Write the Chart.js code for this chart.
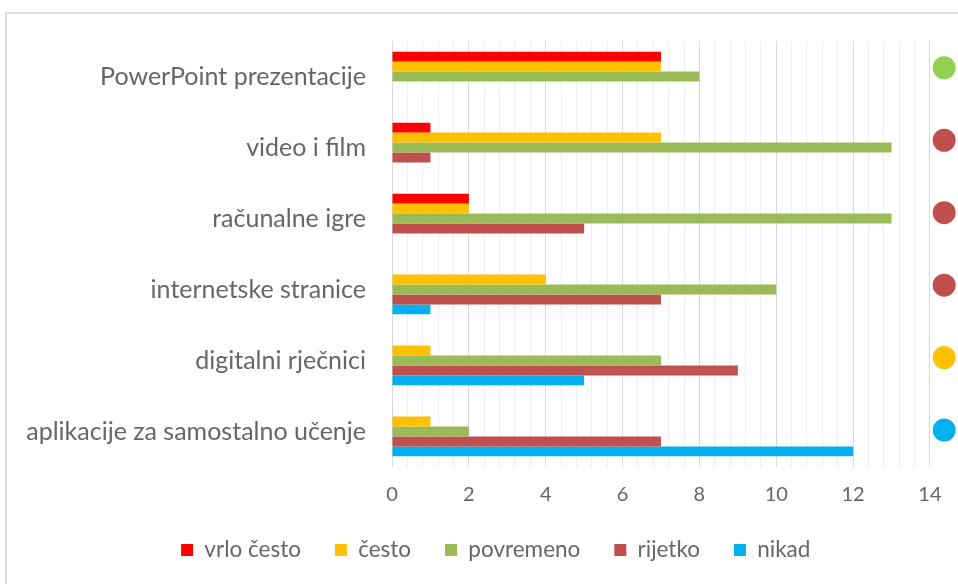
<!DOCTYPE html>
<html>
<head>
<meta charset="utf-8">
<script src="https://cdn.jsdelivr.net/npm/chart.js@4/dist/chart.umd.min.js"></script>
<style>
  html, body { margin: 0; padding: 0; background: #fff; overflow: hidden; }
  #wrap { position: relative; width: 958px; height: 584px; }
  #frame { position: absolute; left: 5px; top: 12px; width: 1000px; height: 1000px;
           border: 2px solid #dedede; box-sizing: border-box; pointer-events: none; }
  canvas { position: absolute; left: 0; top: 0; }
</style>
</head>
<body>
<div id="wrap">
  <canvas id="chart" width="958" height="584"></canvas>
  <div id="frame"></div>
</div>
<script>
const categories = [
    'PowerPoint prezentacije',
    'video i film',
    'računalne igre',
    'internetske stranice',
    'digitalni rječnici',
    'aplikacije za samostalno učenje'
];

const vrloCesto = [7, 1, 2, 0, 0, 0];
const cesto     = [7, 7, 2, 4, 1, 1];
const povremeno = [8, 13, 13, 10, 7, 2];
const rijetko   = [0, 1, 5, 7, 9, 7];
const nikad     = [0, 0, 0, 1, 5, 12];

// coloured dot right of each row (most common answer).
// In the original these sit on a secondary row axis (0.63 .. 6.51, reversed)
const markerValue = 14.37;
const markerRows = [1, 2, 3, 4, 5, 6];
const markerColors = ['#92d050', '#c0504d', '#c0504d', '#c0504d', '#ffc000', '#00b0f0'];
const rowAxisMin = 0.63;
const rowAxisMax = 6.51;

const textColor = '#666666';
const fontFamily = 'Lato, "Liberation Sans", sans-serif';
const rightPad = -33.5;   // only shifts the legend; plot area stops at the canvas edge

function isMajor(v) {
    return Math.abs(v / 2 - Math.round(v / 2)) < 1e-6 && v <= 14.001;
}

// secondary row value -> position on the category axis (which runs -0.5 .. n-0.5)
function rowToCategory(r) {
    const n = categories.length;
    return -0.5 + (r - rowAxisMin) / (rowAxisMax - rowAxisMin) * n;
}

function barSet(label, data, color) {
    return {
        type: 'bar',
        label: label,
        data: data,
        backgroundColor: color,
        borderWidth: 0,
        barPercentage: 1.0,
        categoryPercentage: 0.7
    };
}

const ctx = document.getElementById('chart').getContext('2d');
const chart = new Chart(ctx, {
    type: 'bar',
    data: {
        labels: categories,
        datasets: [
            barSet('vrlo često', vrloCesto, '#ff0000'),
            barSet('često', cesto, '#ffc000'),
            barSet('povremeno', povremeno, '#9bbb59'),
            barSet('rijetko', rijetko, '#c0504d'),
            barSet('nikad', nikad, '#00b0f0'),
            {
                type: 'scatter',
                label: 'marker',
                parsing: false,
                data: markerRows.map(r => ({ x: markerValue, y: rowToCategory(r) })),
                pointRadius: 11.5,
                pointBackgroundColor: markerColors,
                pointBorderWidth: 0,
                showLine: false,
                clip: false
            }
        ]
    },
    options: {
        indexAxis: 'y',
        responsive: false,
        animation: false,
        layout: {
            autoPadding: false,
            padding: { left: 0, right: rightPad, top: 41, bottom: 12.75 }
        },
        scales: {
            x: {
                type: 'linear',
                min: 0,
                max: 14.73,
                border: { display: false },
                grid: {
                    drawTicks: false,
                    color: (c) => {
                        const v = c.tick ? c.tick.value : 0;
                        if (v > 14.001) return 'rgba(0,0,0,0)';
                        return isMajor(v) ? '#d9d9d9' : '#eeeeee';
                    },
                    lineWidth: 1
                },
                ticks: {
                    stepSize: 0.4,
                    autoSkip: false,
                    maxRotation: 0,
                    padding: 16,
                    color: textColor,
                    font: { family: fontFamily, size: 20 },
                    callback: (v) => isMajor(v) ? Math.round(v) : ''
                },
                afterFit: (scale) => {
                    scale.height = 37.75;
                    scale.paddingLeft = 0;
                    scale.paddingRight = rightPad - 10;
                }
            },
            y: {
                type: 'category',
                border: { display: false },
                grid: { display: false, drawTicks: false },
                ticks: {
                    padding: 26,
                    color: textColor,
                    font: { family: fontFamily, size: 25 }
                },
                afterFit: (scale) => { scale.width = 392; }
            }
        },
        plugins: {
            tooltip: { enabled: false },
            legend: {
                position: 'bottom',
                labels: {
                    filter: (item) => item.text !== 'marker',
                    boxWidth: 12,
                    boxHeight: 12,
                    padding: 34,
                    color: textColor,
                    font: { family: fontFamily, size: 22.5 }
                }
            }
        }
    }
});
</script>
</body>
</html>
